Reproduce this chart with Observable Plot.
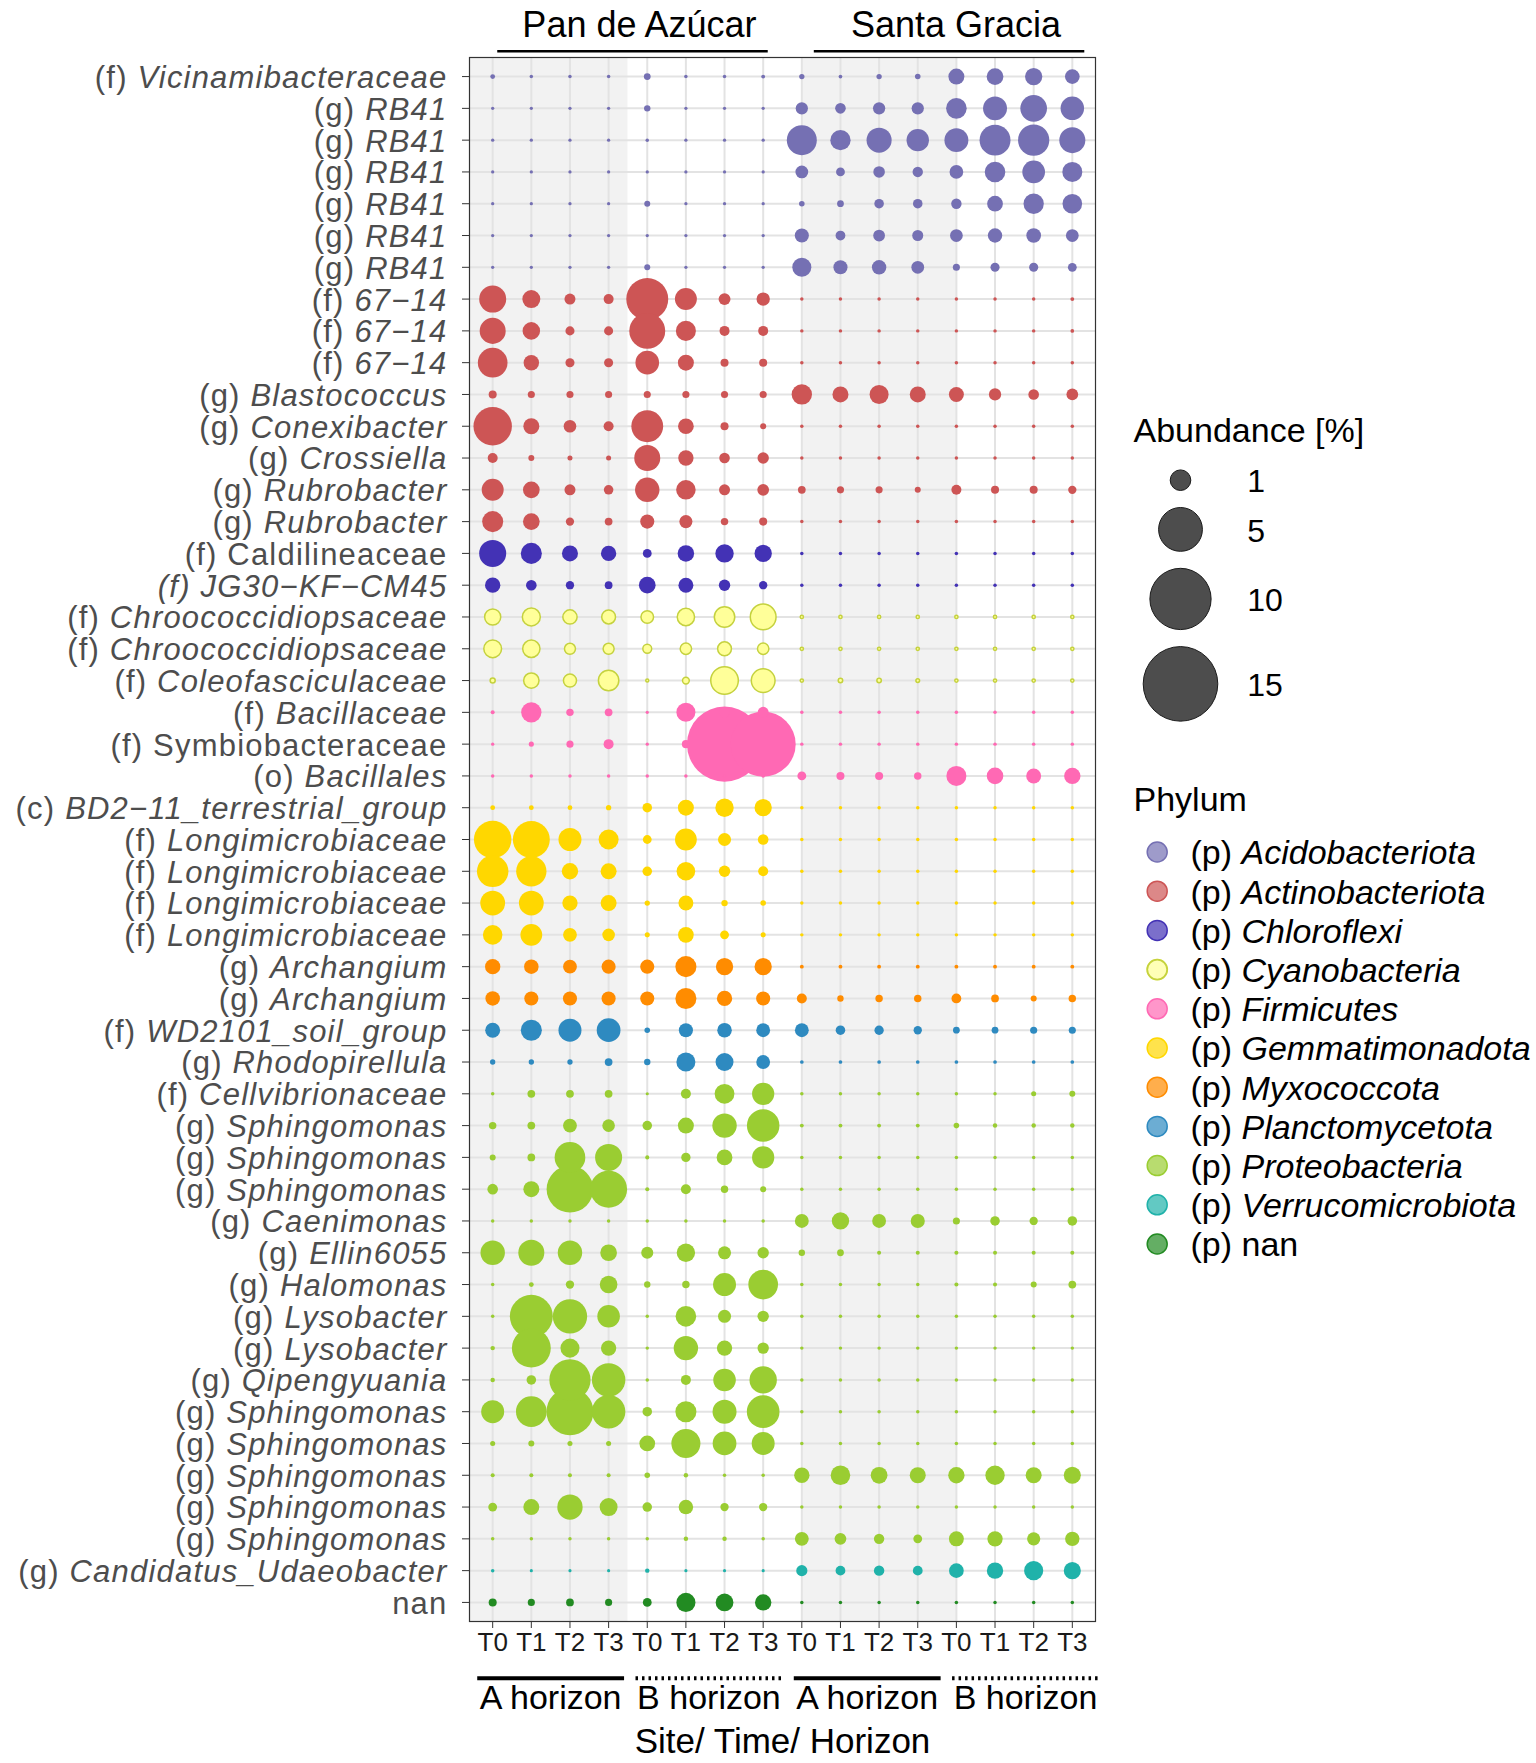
<!DOCTYPE html>
<html><head><meta charset="utf-8">
<script src="https://cdn.jsdelivr.net/npm/d3@7"></script>
<script src="https://cdn.jsdelivr.net/npm/@observablehq/plot@0.6"></script>
<style>
body{margin:0;background:#fff;font-family:"Liberation Sans",Arial,sans-serif}
#wrap{position:relative;width:1536px;height:1763px;background:#fff}
#main{position:absolute;left:0;top:0}
#legend{position:absolute;left:1100px;top:0}
</style></head><body><div id="wrap"><div id="main"></div><div id="legend"></div></div>
<script>
// ---------- data ----------
const columns = ["T0","T1","T2","T3","T0","T1","T2","T3","T0","T1","T2","T3","T0","T1","T2","T3"];
const sites = [{label:"Pan de Azúcar", first:1, last:8},{label:"Santa Gracia", first:9, last:16}];
const horizons = [
  {label:"A horizon", first:1, last:4, dotted:false},
  {label:"B horizon", first:5, last:8, dotted:true},
  {label:"A horizon", first:9, last:12, dotted:false},
  {label:"B horizon", first:13, last:16, dotted:true}
];
const axisTitle = "Site/ Time/ Horizon";
const taxa = [
  "(f) Vicinamibacteraceae","(g) RB41","(g) RB41","(g) RB41","(g) RB41","(g) RB41","(g) RB41",
  "(f) 67−14","(f) 67−14","(f) 67−14","(g) Blastococcus","(g) Conexibacter","(g) Crossiella",
  "(g) Rubrobacter","(g) Rubrobacter","(f) Caldilineaceae","(f) JG30−KF−CM45",
  "(f) Chroococcidiopsaceae","(f) Chroococcidiopsaceae","(f) Coleofasciculaceae",
  "(f) Bacillaceae","(f) Symbiobacteraceae","(o) Bacillales","(c) BD2−11_terrestrial_group",
  "(f) Longimicrobiaceae","(f) Longimicrobiaceae","(f) Longimicrobiaceae","(f) Longimicrobiaceae",
  "(g) Archangium","(g) Archangium","(f) WD2101_soil_group","(g) Rhodopirellula",
  "(f) Cellvibrionaceae","(g) Sphingomonas","(g) Sphingomonas","(g) Sphingomonas",
  "(g) Caenimonas","(g) Ellin6055","(g) Halomonas","(g) Lysobacter","(g) Lysobacter",
  "(g) Qipengyuania","(g) Sphingomonas","(g) Sphingomonas","(g) Sphingomonas","(g) Sphingomonas",
  "(g) Sphingomonas","(g) Candidatus_Udaeobacter","nan"
];
// italic style of each label: "name" = name italic, "none" = upright, "all" = fully italic
const labelStyle = [
  "name","name","name","name","name","name","name","name","name","name","name","name","name",
  "name","name","none","all","name","name","name","name","none","name","name","name","name",
  "name","name","name","name","name","name","name","name","name","name","name","name","name",
  "name","name","name","name","name","name","name","name","name","none"
];
const phyla = ["Acidobacteriota","Actinobacteriota","Chloroflexi","Cyanobacteria","Firmicutes",
  "Gemmatimonadota","Myxococcota","Planctomycetota","Proteobacteria","Verrucomicrobiota","nan"];
const phylumColors = ["#7570B3","#CD5555","#4332B5","#FFFF99","#FF69B4","#FFD700","#FF8C00",
  "#2E8AC0","#9ACD32","#20B2AA","#228B22"];
const cyanoStroke = "#C5D23E";
const phylumOfRow = [
  "Acidobacteriota","Acidobacteriota","Acidobacteriota","Acidobacteriota","Acidobacteriota","Acidobacteriota","Acidobacteriota",
  "Actinobacteriota","Actinobacteriota","Actinobacteriota","Actinobacteriota","Actinobacteriota","Actinobacteriota","Actinobacteriota","Actinobacteriota",
  "Chloroflexi","Chloroflexi",
  "Cyanobacteria","Cyanobacteria","Cyanobacteria",
  "Firmicutes","Firmicutes","Firmicutes",
  "Gemmatimonadota","Gemmatimonadota","Gemmatimonadota","Gemmatimonadota","Gemmatimonadota",
  "Myxococcota","Myxococcota",
  "Planctomycetota","Planctomycetota",
  "Proteobacteria","Proteobacteria","Proteobacteria","Proteobacteria","Proteobacteria","Proteobacteria","Proteobacteria","Proteobacteria",
  "Proteobacteria","Proteobacteria","Proteobacteria","Proteobacteria","Proteobacteria","Proteobacteria","Proteobacteria",
  "Verrucomicrobiota","nan"
];
// abundance [%], one row per taxon, 16 columns (PdA A T0-T3, PdA B T0-T3, SG A T0-T3, SG B T0-T3)
const abundance = [
  [0.025,0.008,0.008,0.008,0.07,0.008,0.008,0.012,0.035,0.01,0.035,0.04,0.57,0.63,0.68,0.47],
  [0.006,0.006,0.006,0.006,0.06,0.006,0.006,0.006,0.31,0.22,0.31,0.31,1.0,1.39,1.75,1.33],
  [0.006,0.006,0.006,0.006,0.008,0.006,0.006,0.006,2.25,0.97,1.53,1.2,1.38,2.4,2.45,1.66],
  [0.006,0.006,0.006,0.006,0.006,0.006,0.006,0.006,0.34,0.14,0.27,0.21,0.4,1.0,1.24,0.94],
  [0.006,0.006,0.006,0.006,0.05,0.006,0.006,0.006,0.04,0.07,0.17,0.17,0.21,0.55,0.97,0.9],
  [0.006,0.006,0.006,0.006,0.006,0.006,0.006,0.006,0.43,0.18,0.28,0.24,0.34,0.45,0.47,0.34],
  [0.006,0.006,0.006,0.006,0.05,0.006,0.006,0.006,0.84,0.43,0.45,0.34,0.08,0.15,0.15,0.14],
  [1.8,0.74,0.24,0.19,4.57,1.15,0.29,0.38,0.008,0.008,0.008,0.008,0.008,0.008,0.008,0.012],
  [1.66,0.7,0.15,0.15,3.3,0.94,0.19,0.19,0.008,0.008,0.008,0.008,0.008,0.008,0.008,0.01],
  [2.2,0.53,0.15,0.15,1.35,0.57,0.11,0.11,0.008,0.008,0.008,0.008,0.008,0.008,0.008,0.008],
  [0.11,0.08,0.08,0.08,0.08,0.08,0.08,0.08,0.97,0.57,0.84,0.57,0.49,0.31,0.22,0.28],
  [3.8,0.57,0.33,0.19,2.55,0.55,0.11,0.05,0.008,0.008,0.008,0.008,0.008,0.008,0.008,0.008],
  [0.19,0.05,0.03,0.03,1.66,0.52,0.22,0.26,0.008,0.008,0.008,0.008,0.008,0.008,0.008,0.008],
  [1.15,0.63,0.24,0.17,1.45,0.89,0.24,0.28,0.1,0.08,0.08,0.05,0.19,0.11,0.11,0.12],
  [1.05,0.63,0.12,0.1,0.43,0.36,0.09,0.11,0.008,0.008,0.008,0.008,0.008,0.008,0.008,0.008],
  [1.8,1.05,0.57,0.52,0.14,0.61,0.78,0.68,0.008,0.008,0.008,0.008,0.008,0.008,0.008,0.008],
  [0.52,0.22,0.12,0.1,0.63,0.49,0.26,0.12,0.008,0.008,0.008,0.008,0.008,0.008,0.008,0.008],
  [0.58,0.74,0.44,0.41,0.33,0.68,0.98,1.62,0.006,0.006,0.006,0.006,0.006,0.006,0.006,0.006],
  [0.72,0.68,0.24,0.24,0.14,0.26,0.41,0.26,0.006,0.006,0.006,0.006,0.006,0.006,0.006,0.006],
  [0.03,0.52,0.36,0.98,0.004,0.07,1.88,1.36,0.006,0.02,0.02,0.01,0.006,0.006,0.006,0.006],
  [0.013,0.97,0.09,0.1,0.006,0.84,0.2,0.24,0.008,0.008,0.008,0.008,0.008,0.008,0.008,0.008],
  [0.006,0.03,0.08,0.19,0.006,0.11,15.2,11.3,0.008,0.008,0.008,0.008,0.008,0.008,0.008,0.008],
  [0.008,0.008,0.008,0.008,0.008,0.008,0.008,0.008,0.14,0.11,0.11,0.09,0.94,0.62,0.49,0.6],
  [0.025,0.025,0.025,0.035,0.17,0.57,0.78,0.68,0.008,0.008,0.008,0.008,0.008,0.008,0.008,0.008],
  [3.6,3.5,1.27,0.94,0.14,1.13,0.36,0.22,0.008,0.008,0.008,0.008,0.008,0.008,0.008,0.008],
  [2.5,2.3,0.6,0.57,0.17,0.8,0.26,0.19,0.008,0.008,0.008,0.008,0.008,0.008,0.008,0.008],
  [1.5,1.5,0.52,0.57,0.035,0.49,0.06,0.04,0.008,0.008,0.008,0.008,0.008,0.008,0.008,0.008],
  [0.89,1.13,0.41,0.33,0.03,0.55,0.14,0.03,0.008,0.008,0.008,0.008,0.008,0.008,0.008,0.008],
  [0.52,0.46,0.41,0.43,0.43,1.05,0.68,0.68,0.012,0.012,0.012,0.012,0.012,0.012,0.012,0.012],
  [0.46,0.43,0.43,0.43,0.43,1.05,0.52,0.43,0.19,0.06,0.09,0.09,0.18,0.1,0.05,0.09],
  [0.49,1.05,1.27,1.36,0.04,0.43,0.46,0.41,0.41,0.17,0.16,0.12,0.07,0.07,0.08,0.08],
  [0.035,0.035,0.035,0.1,0.06,0.84,0.74,0.41,0.01,0.01,0.01,0.01,0.01,0.01,0.01,0.01],
  [0.008,0.1,0.1,0.1,0.005,0.19,0.92,1.18,0.008,0.008,0.008,0.008,0.008,0.008,0.03,0.05],
  [0.09,0.1,0.41,0.33,0.17,0.57,1.45,2.67,0.012,0.012,0.012,0.012,0.04,0.02,0.02,0.02],
  [0.05,0.1,2.36,1.8,0.014,0.16,0.55,1.18,0.008,0.008,0.008,0.008,0.008,0.008,0.008,0.008],
  [0.22,0.57,5.7,3.5,0.014,0.19,0.09,0.05,0.008,0.008,0.008,0.008,0.008,0.008,0.008,0.008],
  [0.008,0.008,0.008,0.008,0.008,0.008,0.008,0.008,0.41,0.68,0.41,0.43,0.08,0.17,0.12,0.17],
  [1.45,1.66,1.45,0.63,0.3,0.78,0.36,0.26,0.06,0.07,0.014,0.014,0.014,0.014,0.014,0.014],
  [0.008,0.025,0.12,0.71,0.06,0.09,1.27,2.2,0.008,0.008,0.008,0.008,0.014,0.014,0.05,0.1],
  [0.008,4.8,3.0,1.22,0.008,1.0,0.36,0.26,0.008,0.008,0.008,0.008,0.008,0.008,0.008,0.008],
  [0.02,3.9,0.84,0.52,0.008,1.45,0.52,0.26,0.008,0.008,0.008,0.008,0.008,0.008,0.008,0.008],
  [0.02,0.17,4.4,2.85,0.008,0.19,1.22,1.85,0.008,0.008,0.008,0.008,0.008,0.008,0.008,0.008],
  [1.27,2.36,5.8,2.85,0.17,1.05,1.4,2.7,0.008,0.008,0.008,0.008,0.008,0.008,0.008,0.008],
  [0.03,0.05,0.03,0.03,0.55,2.1,1.36,1.27,0.008,0.008,0.008,0.008,0.008,0.008,0.008,0.008],
  [0.014,0.014,0.014,0.014,0.04,0.02,0.008,0.008,0.52,0.89,0.63,0.57,0.6,0.87,0.57,0.66],
  [0.14,0.57,1.57,0.74,0.17,0.46,0.12,0.12,0.008,0.008,0.008,0.008,0.008,0.008,0.008,0.008],
  [0.008,0.008,0.008,0.008,0.008,0.02,0.02,0.008,0.41,0.28,0.21,0.14,0.49,0.52,0.37,0.45],
  [0.008,0.005,0.005,0.005,0.02,0.005,0.005,0.005,0.25,0.18,0.21,0.18,0.47,0.6,0.85,0.66],
  [0.11,0.08,0.1,0.08,0.14,0.85,0.72,0.6,0.008,0.008,0.008,0.008,0.008,0.008,0.008,0.008]
];
const sizeBreaks = [1, 5, 10, 15];
const sizeTitle = "Abundance [%]";
const colorTitle = "Phylum";

// ---------- derived tables ----------
const nRows = taxa.length, nCols = columns.length;
const cells = [];
abundance.forEach((vals, i) => vals.forEach((v, j) =>
  cells.push({row: i + 1, col: j + 1, value: v, phylum: phylumOfRow[i]})));
const rowTicks = d3.range(1, nRows + 1);
const colTicks = d3.range(1, nCols + 1);
const xDom = [0.4, nCols + 0.6], yDom = [0.4, nRows + 0.6];
// background shading (in column units)
const shade = [{x1: xDom[0], x2: 4.5}, {x1: 9, x2: 13}];
// annotation strip below/above is slightly wider than the panel
const ann = x => 2.5 + (x - 2.5) * 1.024;
const mid = d => (d.first + d.last) / 2;

const FONT = '"Liberation Sans", Arial, Helvetica, sans-serif';
const rScale = {type: "sqrt", domain: [0, 15], range: [0.9, 37.3]};
const colorScale = {type: "ordinal", domain: phyla, range: phylumColors};

const main = Plot.plot({
  width: 1110, height: 1763,
  marginLeft: 469, marginRight: 15, marginTop: 57, marginBottom: 142,
  style: {fontFamily: FONT, fontSize: "26px", color: "#333", background: "white", overflow: "visible"},
  x: {domain: xDom, ticks: colTicks, tickFormat: () => "", tickSize: 7, label: null},
  y: {domain: yDom, reverse: true, ticks: rowTicks, tickFormat: () => "", tickSize: 7, label: null},
  r: rScale,
  color: colorScale,
  marks: [
    Plot.rect(shade, {x1: "x1", x2: "x2", fill: "#F2F2F2"}),
    Plot.ruleX(colTicks, {stroke: "#E3E3E3", strokeWidth: 2}),
    Plot.ruleY(rowTicks, {stroke: "#E3E3E3", strokeWidth: 2}),
    Plot.dot(cells, {x: "col", y: "row", r: "value", fill: "phylum"}),
    Plot.dot(cells.filter(d => d.phylum === "Cyanobacteria"),
      {x: "col", y: "row", r: "value", fill: "none", stroke: cyanoStroke, strokeWidth: 1.5}),
    Plot.frame({stroke: "#333", strokeWidth: 1.2}),
    // y labels
    Plot.text(taxa.map((t, i) => ({t, row: i + 1})),
      {y: "row", text: "t", frameAnchor: "left", textAnchor: "end", dx: -22, dy: 1.5,
       fontSize: 31, fill: "#4D4D4D"}),
    // x tick labels
    Plot.text(columns.map((t, i) => ({t, col: i + 1})),
      {x: "col", text: "t", frameAnchor: "bottom", lineAnchor: "bottom", dy: 29, fontSize: 26, fill: "#1A1A1A"}),
    // horizon brackets
    Plot.link(horizons.filter(d => !d.dotted),
      {x1: d => ann(mid(d)) - 1.9, x2: d => ann(mid(d)) + 1.9, y1: () => yDom[1], y2: () => yDom[1],
       dy: 56.7, stroke: "black", strokeWidth: 4}),
    Plot.link(horizons.filter(d => d.dotted),
      {x1: d => ann(mid(d)) - 1.9, x2: d => ann(mid(d)) + 1.9, y1: () => yDom[1], y2: () => yDom[1],
       dy: 56.7, stroke: "black", strokeWidth: 4, strokeDasharray: "2.5,4"}),
    Plot.text(horizons, {x: d => ann(mid(d)), y: () => yDom[1], text: "label", dy: 87,
       lineAnchor: "bottom", fontSize: 34, fill: "black"}),
    Plot.text([axisTitle], {frameAnchor: "bottom", text: d => d, dy: 131, lineAnchor: "bottom",
       fontSize: 35, fill: "black"}),
    // site headers
    Plot.link(sites, {x1: d => ann(mid(d)) - 3.43, x2: d => ann(mid(d)) + 3.57,
       y1: () => yDom[0], y2: () => yDom[0], dy: -6.3, stroke: "black", strokeWidth: 2.5}),
    Plot.text(sites, {x: d => ann(mid(d)) + 0.25, y: () => yDom[0], text: "label", dy: -20.3,
       lineAnchor: "bottom", fontSize: 36, fill: "black"})
  ]
});
document.getElementById("main").appendChild(main);

// ---------- legend (separate Plot, same r and color scales) ----------
const rs = Plot.scale({r: rScale});
const rOf = v => rs.apply(v);
const keyPad = 17;
let yCursor = 460.9;
const sizeKeys = sizeBreaks.map(v => {
  const h = 2 * rOf(v) + keyPad;
  const cy = yCursor + h / 2;
  yCursor += h;
  return {v, cy};
});
const phyStart = 851.5, phyStep = 39.2;
const phyKeys = phyla.map((p, i) => ({p, cy: phyStart + i * phyStep, label: "(p) " + p}));

const legend = Plot.plot({
  width: 436, height: 1763, margin: 0,
  style: {fontFamily: FONT, fontSize: "32px", color: "black", background: "transparent", overflow: "visible"},
  x: {type: "identity", axis: null},
  y: {type: "identity", axis: null},
  r: rScale,
  color: colorScale,
  marks: [
    Plot.text([sizeTitle], {x: () => 33, y: () => 441.7, text: d => d, textAnchor: "start",
       lineAnchor: "bottom", fontSize: 34, fill: "black"}),
    Plot.dot(sizeKeys, {x: () => 80, y: "cy", r: "v", fill: "#4D4D4D", stroke: "#1A1A1A", strokeWidth: 1}),
    Plot.text(sizeKeys, {x: () => 146.7, y: "cy", text: d => String(d.v), textAnchor: "start",
       dy: 2, fontSize: 32, fill: "black"}),
    Plot.text([colorTitle], {x: () => 33, y: () => 810, text: d => d, textAnchor: "start",
       lineAnchor: "bottom", fontSize: 34, fill: "black"}),
    Plot.dot(phyKeys, {x: () => 56.7, y: "cy", r: 10, fill: "p", stroke: "p", fillOpacity: 0.7, strokeWidth: 1.5}),
    Plot.dot(phyKeys.filter(d => d.p === "Cyanobacteria"),
      {x: () => 56.7, y: "cy", r: 10, fill: "none", stroke: cyanoStroke, strokeWidth: 1.8}),
    Plot.text(phyKeys, {x: () => 90, y: "cy", text: "label", textAnchor: "start", dy: 1.5,
       fontSize: 34, fill: "black"})
  ]
});
document.getElementById("legend").appendChild(legend);

// ---------- mixed upright / italic labels ----------
const parts = new Map();
taxa.forEach((t, i) => parts.set(t, {mode: labelStyle[i], spacing: 1.2}));
phyla.forEach(p => parts.set("(p) " + p, {mode: p === "nan" ? "none" : "name", spacing: 0}));
const NS = "http://www.w3.org/2000/svg";
document.querySelectorAll("#wrap svg text").forEach(t => {
  if (t.children.length) return;
  const s = t.textContent;
  const p = parts.get(s);
  if (!p) return;
  if (p.spacing) t.setAttribute("letter-spacing", p.spacing);
  if (p.mode === "all") { t.setAttribute("font-style", "italic"); return; }
  if (p.mode === "none") return;
  const m = s.match(/^(\(\w\) )(.*)$/);
  if (!m) return;
  t.textContent = "";
  const a = document.createElementNS(NS, "tspan"); a.textContent = m[1];
  const b = document.createElementNS(NS, "tspan"); b.textContent = m[2];
  b.setAttribute("font-style", "italic");
  t.appendChild(a); t.appendChild(b);
});
</script></body></html>
